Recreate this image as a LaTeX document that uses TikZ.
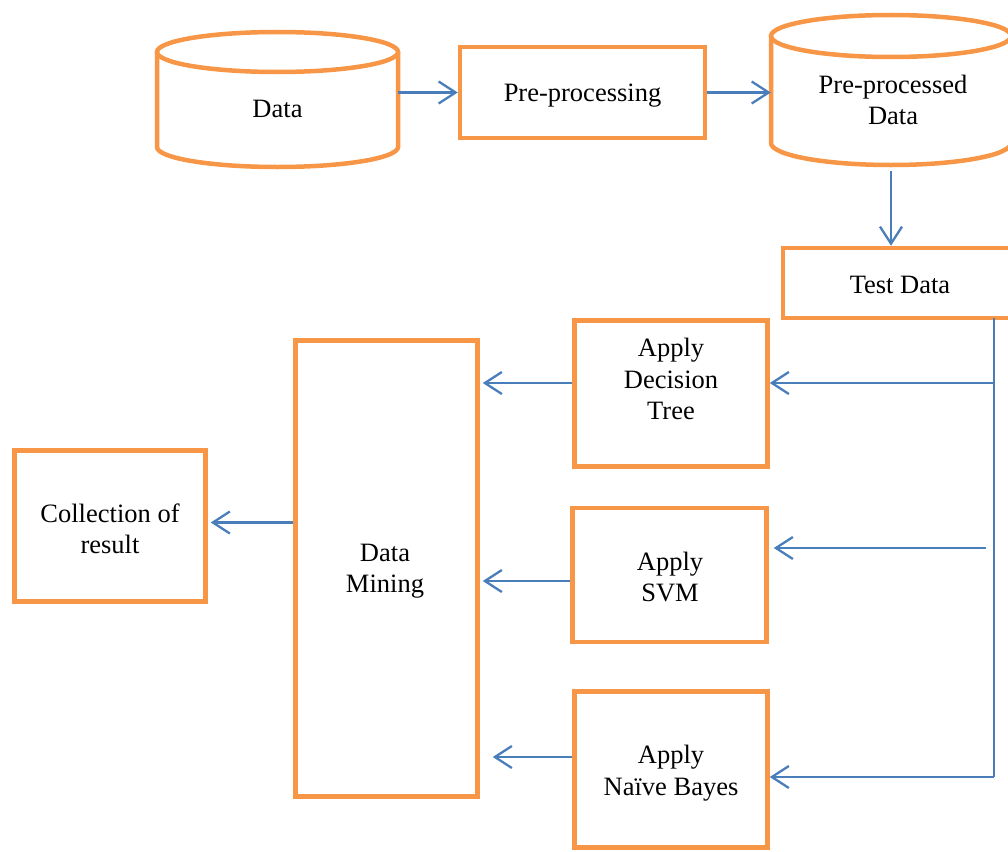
\documentclass[tikz,border=0pt]{standalone}
\usepackage{fontspec}
\setmainfont{Liberation Serif}
\usetikzlibrary{arrows.meta,calc}
\definecolor{orng}{HTML}{F79646}
\definecolor{blu}{HTML}{4A7EBB}
\begin{document}
\begin{tikzpicture}[x=1pt,y=1pt,
  box/.style={draw=orng,line width=4.5pt,inner sep=0pt,rectangle},
  ghost/.style={inner sep=0pt,rectangle},
  cyl/.style={draw=orng,line width=4.5pt},
  txt/.style={font=\fontsize{26.5}{31.5}\selectfont,align=center,inner sep=0pt},
  wire/.style={draw=blu,line width=2.3pt},
  arr/.style={wire,-{Straight Barb[length=17pt,width=22pt]}}]
\useasboundingbox (0,0) rectangle (1008,-851);
\clip (0,0) rectangle (1008,-851);

% cylinders
\node[ghost,minimum width=241pt,minimum height=135pt] (data) at (277.5,-99.5) {};
\draw[cyl] (157,-52) -- (157,-147) arc (180:360:120.5pt and 20pt) -- (398,-52);
\draw[cyl] (277.5,-52) ellipse [x radius=120.5pt,y radius=20pt];
\node[txt] (datat) at (277.5,-109) {Data};

\node[ghost,minimum width=240pt,minimum height=152pt] (ppd) at (891,-90) {};
\draw[cyl] (771,-36) -- (771,-143) arc (180:360:120pt and 22pt) -- (1011,-36);
\draw[cyl] (891,-36) ellipse [x radius=120pt,y radius=21pt];
\node[txt] (ppdt) at (893,-100) {Pre-processed\\Data};

% boxes
\node[box,minimum width=245pt,minimum height=91pt] (pre) at (582.5,-92.5) {};
\node[txt] at (582.5,-96) {Pre-processing};
\node[box,minimum width=229pt,minimum height=70pt] (test) at (897.5,-283) {};
\node[txt] at (900,-285) {Test Data};
\node[box,minimum width=193pt,minimum height=146pt] (dt) at (671,-393.5) {};
\node[txt] at (671,-379) {Apply\\Decision\\Tree};
\node[box,minimum width=194pt,minimum height=134pt] (svm) at (669.5,-575) {};
\node[txt] at (670,-577) {Apply\\SVM};
\node[box,minimum width=193pt,minimum height=156pt] (nb) at (671,-769.5) {};
\node[txt] at (671,-773) {Apply\\Naïve Bayes};
\node[box,minimum width=182pt,minimum height=456pt] (dm) at (386.5,-568.5) {};
\node[txt] at (385,-571) {Data\\Mining};
\node[box,minimum width=191pt,minimum height=151pt] (coll) at (110,-526) {};
\node[txt] at (110,-529) {Collection of\\result};

% connectors
\draw[arr] (data.east |- pre.west) -- (pre.west);
\draw[arr] (pre.east) -- (ppd.west |- pre.east);
\draw[arr] ([yshift=-5pt]ppd.south) -- (ppd.south |- test.north);

\coordinate (bt) at (994,-318);
\coordinate (t1) at (994,-383);
\coordinate (t2) at (986,-548);
\coordinate (bb) at (994,-777);
\draw[wire] (bt) -- (bb);
\draw[arr] (t1) -- (dt.east |- t1);
\draw[arr,shorten >=5pt] (t2) -- (svm.east |- t2);
\draw[arr] (bb) -- (nb.east |- bb);

\draw[arr,shorten >=3pt] (dt.west |- t1) -- (dm.east |- t1);
\draw[arr,shorten >=3pt] ($(svm.west)+(0,-6)$) -- ($(dm.east |- svm.west)+(0,-6)$);
\draw[arr,shorten >=13pt] ($(nb.west)+(0,12.5)$) -- ($(dm.east |- nb.west)+(0,12.5)$);
\draw[arr,shorten >=3pt] ($(dm.west)+(0,46)$) -- ($(coll.east |- dm.west)+(0,46)$);
\end{tikzpicture}
\end{document}
